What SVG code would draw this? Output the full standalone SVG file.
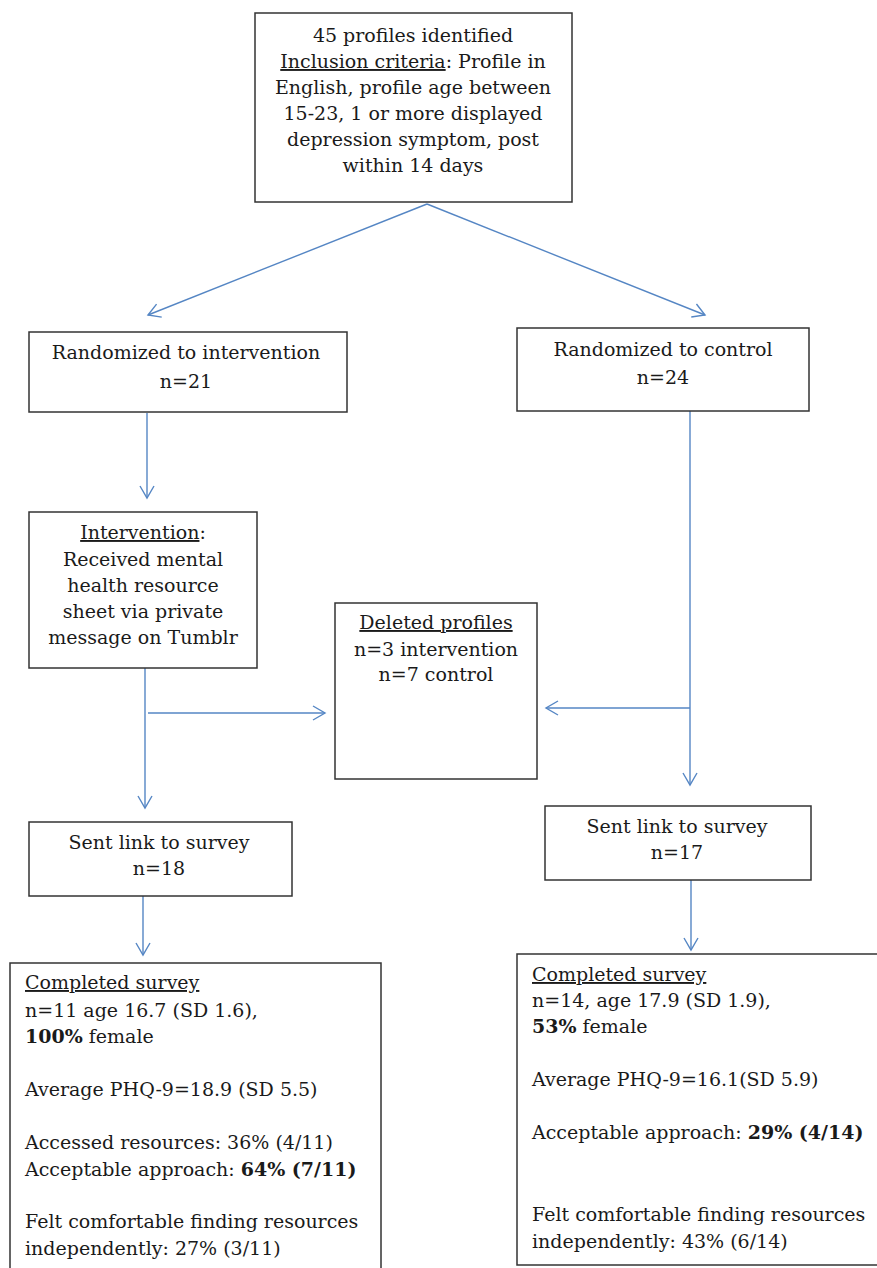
<svg xmlns="http://www.w3.org/2000/svg" width="877" height="1268" viewBox="0 0 877 1268">
<style>
.box{fill:#fff;stroke:#333;stroke-width:1.5}
.t{font-family:"DejaVu Serif","Liberation Serif",serif;font-size:19px;fill:#1a1a1a}
.c{text-anchor:middle}
.u{text-decoration:underline}
.b{font-weight:bold}
.ln{stroke:#5586c4;stroke-width:1.4;fill:none}
</style>
<defs>
<marker id="ah" markerUnits="userSpaceOnUse" markerWidth="16" markerHeight="16" refX="13" refY="8" orient="auto">
<path d="M1,1 L13,8 L1,15" fill="none" stroke="#5586c4" stroke-width="1.4"/>
</marker>
</defs>
<rect width="877" height="1268" fill="#fff"/>
<g id="connectors">
<line class="ln" x1="427" y1="204" x2="148" y2="315" marker-end="url(#ah)"/>
<line class="ln" x1="427" y1="204" x2="705" y2="315" marker-end="url(#ah)"/>
<line class="ln" x1="147" y1="413" x2="147" y2="498" marker-end="url(#ah)"/>
<line class="ln" x1="145" y1="668" x2="145" y2="808" marker-end="url(#ah)"/>
<line class="ln" x1="148" y1="713" x2="325" y2="713" marker-end="url(#ah)"/>
<line class="ln" x1="690" y1="411" x2="690" y2="785" marker-end="url(#ah)"/>
<line class="ln" x1="690" y1="708" x2="546" y2="708" marker-end="url(#ah)"/>
<line class="ln" x1="143" y1="896" x2="143" y2="955" marker-end="url(#ah)"/>
<line class="ln" x1="691" y1="880" x2="691" y2="950" marker-end="url(#ah)"/>
</g>
<g id="identified">
<rect class="box" x="255" y="13" width="317" height="189"/>
<text class="t c" x="413" y="42">45 profiles identified</text>
<text class="t c" x="413" y="68"><tspan class="u">Inclusion criteria</tspan>: Profile in</text>
<text class="t c" x="413" y="94">English, profile age between</text>
<text class="t c" x="413" y="120">15-23, 1 or more displayed</text>
<text class="t c" x="413" y="146">depression symptom, post</text>
<text class="t c" x="413" y="172">within 14 days</text>
</g>
<g id="rand-intervention">
<rect class="box" x="29" y="332" width="318" height="80"/>
<text class="t c" x="186" y="359">Randomized to intervention</text>
<text class="t c" x="186" y="388">n=21</text>
</g>
<g id="rand-control">
<rect class="box" x="517" y="328" width="292" height="83"/>
<text class="t c" x="663" y="356">Randomized to control</text>
<text class="t c" x="663" y="384">n=24</text>
</g>
<g id="intervention">
<rect class="box" x="29" y="512" width="228" height="156"/>
<text class="t c" x="143" y="539"><tspan class="u">Intervention</tspan>:</text>
<text class="t c" x="143" y="566">Received mental</text>
<text class="t c" x="143" y="592">health resource</text>
<text class="t c" x="143" y="618">sheet via private</text>
<text class="t c" x="143" y="644">message on Tumblr</text>
</g>
<g id="deleted">
<rect class="box" x="335" y="603" width="202" height="176"/>
<text class="t c" x="436" y="629"><tspan class="u">Deleted profiles</tspan></text>
<text class="t c" x="436" y="656">n=3 intervention</text>
<text class="t c" x="436" y="681">n=7 control</text>
</g>
<g id="sent-left">
<rect class="box" x="29" y="822" width="263" height="74"/>
<text class="t c" x="159" y="849">Sent link to survey</text>
<text class="t c" x="159" y="875">n=18</text>
</g>
<g id="sent-right">
<rect class="box" x="545" y="806" width="266" height="74"/>
<text class="t c" x="677" y="833">Sent link to survey</text>
<text class="t c" x="677" y="859">n=17</text>
</g>
<g id="completed-left">
<rect class="box" x="10" y="963" width="371" height="320"/>
<text class="t" x="25" y="989"><tspan class="u">Completed survey</tspan></text>
<text class="t" x="25" y="1017">n=11 age 16.7 (SD 1.6),</text>
<text class="t" x="25" y="1043"><tspan class="b">100%</tspan> female</text>
<text class="t" x="25" y="1096">Average PHQ-9=18.9 (SD 5.5)</text>
<text class="t" x="25" y="1149">Accessed resources: 36% (4/11)</text>
<text class="t" x="25" y="1176">Acceptable approach: <tspan class="b">64% (7/11)</tspan></text>
<text class="t" x="25" y="1228">Felt comfortable finding resources</text>
<text class="t" x="25" y="1255">independently: 27% (3/11)</text>
</g>
<g id="completed-right">
<rect class="box" x="517" y="954" width="380" height="311"/>
<text class="t" x="532" y="981"><tspan class="u">Completed survey</tspan></text>
<text class="t" x="532" y="1007">n=14, age 17.9 (SD 1.9),</text>
<text class="t" x="532" y="1033"><tspan class="b">53%</tspan> female</text>
<text class="t" x="532" y="1086">Average PHQ-9=16.1(SD 5.9)</text>
<text class="t" x="532" y="1139">Acceptable approach: <tspan class="b">29% (4/14)</tspan></text>
<text class="t" x="532" y="1221">Felt comfortable finding resources</text>
<text class="t" x="532" y="1248">independently: 43% (6/14)</text>
</g>
</svg>
